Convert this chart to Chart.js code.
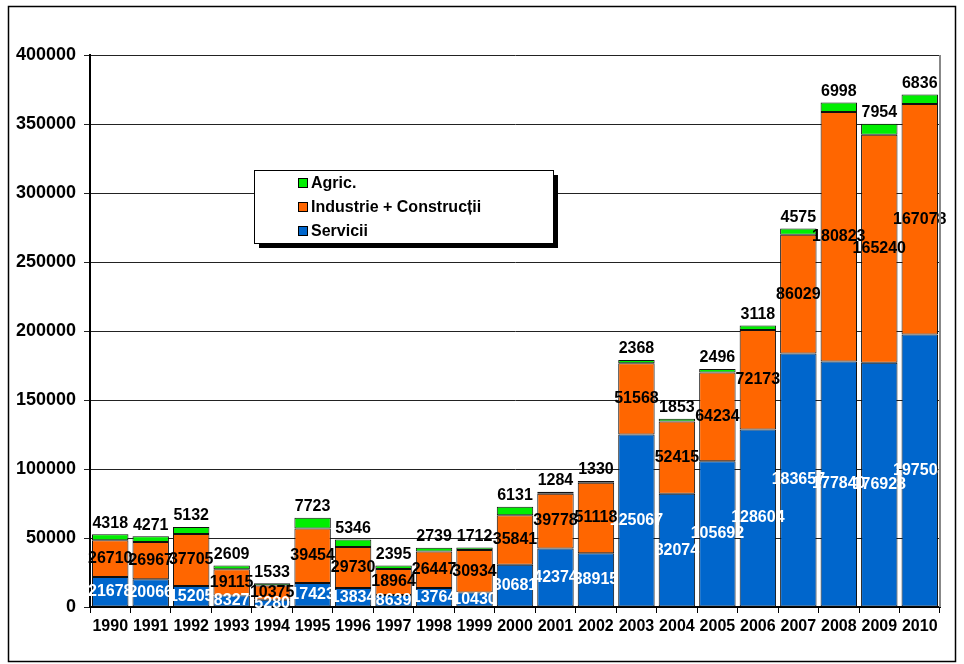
<!DOCTYPE html>
<html>
<head>
<meta charset="utf-8">
<script src="https://cdn.jsdelivr.net/npm/chart.js@4/dist/chart.umd.min.js"></script>
<style>
  html, body { margin: 0; padding: 0; background: #fff; }
  #wrap { width: 964px; height: 664px; }
</style>
</head>
<body>
<div id="wrap"><canvas id="chart" width="964" height="664"></canvas></div>
<script>
// Data
const years = ['1990', '1991', '1992', '1993', '1994', '1995', '1996', '1997', '1998', '1999', '2000',
    '2001', '2002', '2003', '2004', '2005', '2006', '2007', '2008', '2009', '2010'];
const servicii = [21678, 20066, 15205, 8327, 5280, 17423, 13834, 8639, 13764, 10430, 30681,
    42374, 38915, 125067, 82074, 105692, 128604, 183657, 177840, 176928, 197504];
const industrie = [26710, 26967, 37705, 19115, 10375, 39454, 29730, 18964, 26447, 30934, 35841,
    39778, 51118, 51568, 52415, 64234, 72173, 86029, 180823, 165240, 167078];
const agric = [4318, 4271, 5132, 2609, 1533, 7723, 5346, 2395, 2739, 1712, 6131,
    1284, 1330, 2368, 1853, 2496, 3118, 4575, 6998, 7954, 6836];
const yTicks = [0, 50000, 100000, 150000, 200000, 250000, 300000, 350000, 400000];

const FONT = 'bold 16px "Liberation Sans", Arial, sans-serif';

// labels on the bar segments
const segmentLabels = {
    id: 'segmentLabels',
    afterDatasetsDraw(chart) {
        const ctx = chart.ctx;
        ctx.save();
        ctx.font = FONT;
        ctx.textAlign = 'center';
        chart.data.datasets.forEach(function(ds, i) {
            const meta = chart.getDatasetMeta(i);
            meta.data.forEach(function(bar, j) {
                const v = ds.data[j];
                if (ds.labelPos === 'top') {
                    ctx.fillStyle = '#000';
                    ctx.textBaseline = 'bottom';
                    ctx.fillText(v, bar.x, bar.y - 3);
                } else {
                    ctx.fillStyle = ds.labelColor;
                    ctx.textBaseline = 'middle';
                    ctx.fillText(v, bar.x, (bar.y + bar.base) / 2);
                }
            });
        });
        ctx.restore();
    }
};

// legend box inside the plot, plus frame lines
const boxLegend = {
    id: 'boxLegend',
    beforeDraw(chart) {
        const ctx = chart.ctx;
        ctx.save();
        ctx.fillStyle = '#fff';
        ctx.fillRect(0, 0, chart.width, chart.height);
        ctx.strokeStyle = '#000';
        ctx.lineWidth = 1.5;
        ctx.strokeRect(8.5, 6.5, 947, 655);
        ctx.restore();
    },
    afterDraw(chart) {
        const ctx = chart.ctx;
        const a = chart.chartArea;
        ctx.save();
        ctx.strokeStyle = '#888';
        ctx.lineWidth = 2;
        ctx.beginPath();
        ctx.moveTo(a.right, a.top);
        ctx.lineTo(a.right, a.bottom);
        ctx.stroke();

        const x = 254, y = 170, w = 299, h = 73;
        ctx.fillStyle = '#000';
        ctx.fillRect(x + 5, y + 5, w, h);
        ctx.fillStyle = '#fff';
        ctx.fillRect(x, y, w, h);
        ctx.strokeStyle = '#000';
        ctx.lineWidth = 1;
        ctx.strokeRect(x + 0.5, y + 0.5, w, h);

        ctx.font = FONT;
        ctx.textAlign = 'left';
        ctx.textBaseline = 'middle';
        const order = chart.data.datasets.slice().reverse();
        order.forEach(function(ds, k) {
            const ry = y + 13 + k * 24;
            ctx.fillStyle = ds.backgroundColor;
            ctx.fillRect(298, ry - 5, 10, 10);
            ctx.strokeStyle = '#000';
            ctx.strokeRect(298.5, ry - 4.5, 9, 9);
            ctx.fillStyle = '#000';
            ctx.fillText(ds.label, 311, ry + 1);
        });
        ctx.restore();
    }
};

document.addEventListener('DOMContentLoaded', function() {
    const ctx = document.getElementById('chart').getContext('2d');
    const barOpts = {
        borderColor: '#111',
        borderWidth: 1,
        borderSkipped: false,
        categoryPercentage: 1.0,
        barPercentage: 0.9
    };
    new Chart(ctx, {
        type: 'bar',
        data: {
            labels: years,
            datasets: [
                Object.assign({ label: 'Servicii', data: servicii, backgroundColor: '#0066CC', labelColor: '#fff' }, barOpts),
                Object.assign({ label: 'Industrie + Construcții', data: industrie, backgroundColor: '#FF6600', labelColor: '#000' }, barOpts),
                Object.assign({ label: 'Agric.', data: agric, backgroundColor: '#00EE00', labelPos: 'top' }, barOpts)
            ]
        },
        options: {
            responsive: false,
            animation: false,
            layout: { padding: { top: 55, right: 24, left: 0, bottom: 0 } },
            plugins: {
                legend: { display: false },
                tooltip: { enabled: false }
            },
            scales: {
                x: {
                    stacked: true,
                    afterFit: function(s) { s.height = 57; },
                    grid: {
                        offset: true,
                        drawOnChartArea: false,
                        color: '#000',
                        tickLength: 6
                    },
                    border: { color: '#000', width: 2 },
                    ticks: {
                        color: '#000',
                        font: { family: '"Liberation Sans", Arial, sans-serif', size: 16, weight: 'bold' },
                        maxRotation: 0,
                        autoSkip: false,
                        padding: 4
                    }
                },
                y: {
                    stacked: true,
                    min: 0,
                    max: 400000,
                    afterFit: function(s) { s.width = 90; },
                    afterBuildTicks: function(s) { s.ticks = yTicks.map(function(v) { return { value: v }; }); },
                    grid: {
                        color: '#222',
                        lineWidth: 1,
                        tickLength: 6
                    },
                    border: { color: '#000', width: 2 },
                    ticks: {
                        color: '#000',
                        font: { family: '"Liberation Sans", Arial, sans-serif', size: 18, weight: 'bold' },
                        padding: 8,
                        callback: function(v) { return String(v); }
                    }
                }
            }
        },
        plugins: [boxLegend, segmentLabels]
    });
});
</script>
</body>
</html>
